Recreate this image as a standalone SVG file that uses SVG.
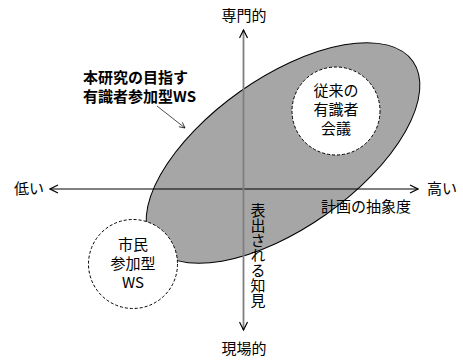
<svg xmlns="http://www.w3.org/2000/svg" width="463" height="360" viewBox="0 0 463 360">
<style>
text{font-family:"Noto Sans CJK JP","Liberation Sans",sans-serif;font-size:15px;fill:#000}
.c{text-anchor:middle}
.b{font-weight:bold}
.circ{fill:#fff;stroke:#000;stroke-width:1;stroke-dasharray:3 2}
</style>
<defs>
<marker id="ah" viewBox="0 0 10 10" refX="9" refY="5" markerWidth="10" markerHeight="10" markerUnits="userSpaceOnUse" orient="auto-start-reverse"><path d="M1,1 L9,5 L1,9" fill="none" stroke="#000" stroke-width="1.2"/></marker>
<marker id="sm" viewBox="0 0 10 10" refX="9" refY="5" markerWidth="7" markerHeight="7" markerUnits="userSpaceOnUse" orient="auto"><path d="M1,1 L9,5 L1,9" fill="none" stroke="#000" stroke-width="1"/></marker>
</defs>
<g id="wide-ws">
<ellipse cx="283" cy="153" rx="159" ry="75" transform="rotate(-35.25 283 153)" fill="#a6a6a6" stroke="#000" stroke-width="1"/>
</g>
<g id="expert-meeting">
<circle class="circ" cx="336" cy="111" r="44"/>
<text class="c" x="336" y="96">従来の</text>
<text class="c" x="336" y="115">有識者</text>
<text class="c" x="336" y="134">会議</text>
</g>
<g id="citizen-ws">
<circle class="circ" cx="133" cy="264" r="44.5"/>
<text class="c" x="133" y="250">市民</text>
<text class="c" x="133" y="269">参加型</text>
<text class="c" x="133" y="288">WS</text>
</g>
<g id="connectors">
<line x1="50" y1="189" x2="418" y2="189" stroke="#000" stroke-width="1" marker-start="url(#ah)" marker-end="url(#ah)"/>
<line x1="243.5" y1="30" x2="243.5" y2="330" stroke="#7f7f7f" stroke-width="1.8" marker-start="url(#ah)" marker-end="url(#ah)"/>
<line x1="157" y1="106" x2="185" y2="128" stroke="#000" stroke-width="0.7" marker-end="url(#sm)"/>
</g>
<g id="labels">
<text class="c" x="244" y="21">専門的</text>
<text class="c" x="244" y="354">現場的</text>
<text x="14" y="194">低い</text>
<text x="427" y="194">高い</text>
<text x="321" y="212">計画の抽象度</text>
<text x="258" y="203" writing-mode="vertical-rl">表出される知見</text>
<text class="b" x="83" y="83">本研究の目指す</text>
<text class="b" x="83" y="102">有識者参加型WS</text>
</g>
</svg>
